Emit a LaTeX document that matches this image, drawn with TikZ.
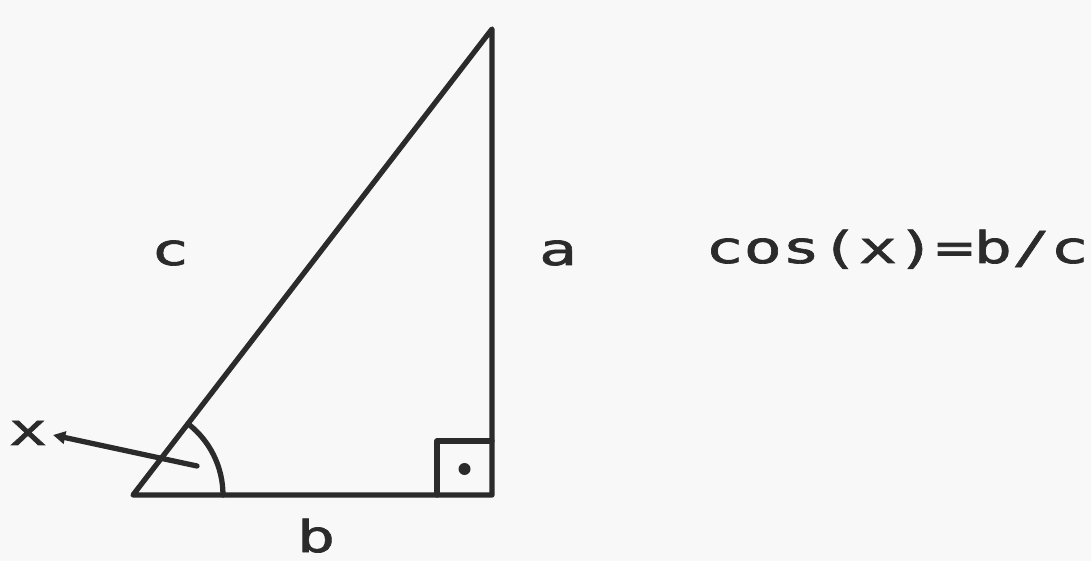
\documentclass[tikz,border=0pt]{standalone}
\usepackage{fontspec}
\usetikzlibrary{arrows.meta}
\newfontfamily\plotfont[FakeStretch=1.45,FakeBold=1.5]{DejaVu Sans Mono}
\definecolor{ink}{HTML}{2B2B2B}
\definecolor{paper}{HTML}{F8F8F8}
\tikzset{
  edge/.style={draw=ink, line width=3pt, line cap=round, line join=round},
  lbl/.style={text=ink, font=\plotfont\fontsize{25}{30}\selectfont, inner sep=0pt, anchor=base},
}
\begin{document}
\begin{tikzpicture}[x=0.02cm,y=0.02cm]
  \fill[paper] (0,0) rectangle (1091,561);
  \useasboundingbox (0,0) rectangle (1091,561);
  \coordinate (A) at (133,66);
  \coordinate (B) at (492,66);
  \coordinate (C) at (492,532);
  % triangle
  \draw[edge] (A) -- (B) -- (C) -- cycle;
  % right angle mark
  \coordinate (R1) at (437,66);
  \coordinate (R2) at (437,120);
  \coordinate (R3) at (492,120);
  \draw[edge] (R1) -- (R2) -- (R3);
  \fill[ink] (464.5,92) circle (6);
  % angle arc
  \draw[edge] ([xshift=1.8cm]A) arc[start angle=0, end angle=52.4, radius=1.8cm];
  % labels
  \node[lbl] (lc) at (170,296) {c};
  \node[lbl] (la) at (558,296) {a};
  \node[lbl] (lb) at (316,9) {b};
  \node[lbl] (lx) at (28,116) {x};
  \node[lbl] (eq) at (897,298) {cos(x)=b/c};
  % pointer to angle
  \coordinate (xtip) at (53,126);
  \coordinate (xend) at (197,95);
  \draw[edge, -{Triangle[length=7pt,width=7pt]}] (xend) -- (xtip);
\end{tikzpicture}
\end{document}
